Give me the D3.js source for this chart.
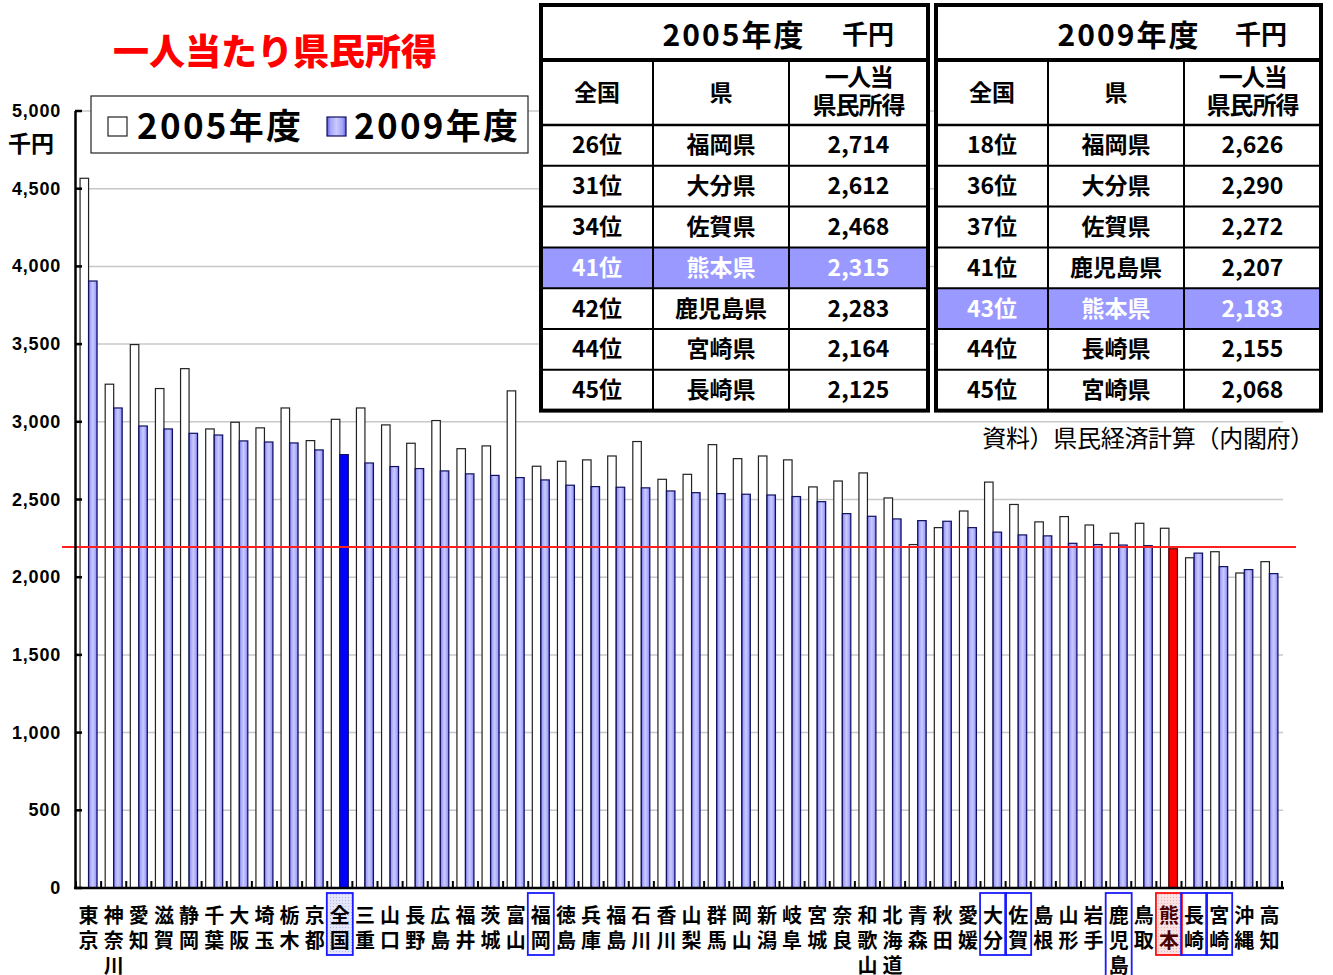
<!DOCTYPE html>
<html>
<head>
<meta charset="utf-8">
<script src="https://cdn.jsdelivr.net/npm/d3@7"></script>
<style>
  html, body { margin: 0; padding: 0; background: #fff; }
  svg { display: block; }
</style>
</head>
<body>
<div id="chart"></div>
<script>
// Prefectures ordered by 2009 per-capita income (全国 = national average)
const prefectures = ['東京','神奈川','愛知','滋賀','静岡','千葉','大阪','埼玉','栃木','京都','全国','三重','山口','長野','広島','福井','茨城','富山','福岡','徳島','兵庫','福島','石川','香川','山梨','群馬','岡山','新潟','岐阜','宮城','奈良','和歌山','北海道','青森','秋田','愛媛','大分','佐賀','島根','山形','岩手','鹿児島','鳥取','熊本','長崎','宮崎','沖縄','高知'];
const income2005 = [4567,3242,3497,3214,3342,2954,2997,2961,3089,2879,3016,3089,2980,2862,3008,2827,2845,3199,2714,2746,2755,2780,2873,2630,2662,2853,2763,2780,2755,2581,2619,2671,2510,2210,2319,2426,2612,2468,2356,2390,2336,2283,2347,2315,2125,2164,2027,2100];
const income2009 = [3906,3089,2973,2954,2926,2915,2877,2870,2864,2819,2789,2735,2712,2699,2684,2665,2655,2641,2626,2592,2583,2579,2575,2555,2544,2538,2534,2529,2519,2486,2409,2392,2375,2364,2360,2319,2290,2272,2266,2218,2210,2207,2203,2183,2155,2068,2049,2023];
const yTicks = [0,500,1000,1500,2000,2500,3000,3500,4000,4500,5000];
const referenceLine = 2195;   // red line (熊本 2009 level)

const focusPref = '熊本';
const nationalLabel = '全国';
const kyushuPrefs = ['福岡','大分','佐賀','鹿児島','長崎','宮崎'];

// Ranking tables
const tableTitles = ['2005年度', '2009年度'];
const ranks2005 = ['26位','31位','34位','41位','42位','44位','45位'];
const prefs2005 = ['福岡県','大分県','佐賀県','熊本県','鹿児島県','宮崎県','長崎県'];
const values2005 = [2714,2612,2468,2315,2283,2164,2125];
const ranks2009 = ['18位','36位','37位','41位','43位','44位','45位'];
const prefs2009 = ['福岡県','大分県','佐賀県','鹿児島県','熊本県','長崎県','宮崎県'];
const values2009 = [2626,2290,2272,2207,2183,2155,2068];

const W = 1333, H = 975;
const JP = "'Noto Sans CJK JP', 'Noto Sans', sans-serif";
const NUM = "'Liberation Sans', Arial, sans-serif";

const svg = d3.select('#chart').append('svg')
    .attr('width', W).attr('height', H)
    .attr('viewBox', `0 0 ${W} ${H}`);
svg.append('rect').attr('width', W).attr('height', H).attr('fill', '#fff');

const defs = svg.append('defs');
const grad = defs.append('linearGradient').attr('id', 'bar09').attr('x1', 0).attr('x2', 1).attr('y1', 0).attr('y2', 0);
[[0, '#5c5ce0'], [0.18, '#a4a4fa'], [0.5, '#cacaff'], [0.82, '#a4a4fa'], [1, '#5c5ce0']]
  .forEach(([o, c]) => grad.append('stop').attr('offset', o).attr('stop-color', c));
const dots = defs.append('pattern').attr('id', 'dotsBlue').attr('width', 3).attr('height', 3).attr('patternUnits', 'userSpaceOnUse');
dots.append('rect').attr('width', 3).attr('height', 3).attr('fill', '#e6e6fb');
dots.append('rect').attr('width', 1).attr('height', 1).attr('fill', '#b8b8e8');
const dotsRed = defs.append('pattern').attr('id', 'dotsRed').attr('width', 3).attr('height', 3).attr('patternUnits', 'userSpaceOnUse');
dotsRed.append('rect').attr('width', 3).attr('height', 3).attr('fill', '#fbe2e2');
dotsRed.append('rect').attr('width', 1).attr('height', 1).attr('fill', '#eab4b4');

const x = d3.scaleBand().domain(prefectures).range([76, 1282]).padding(0);
const y = d3.scaleLinear().domain([0, 5000]).range([888, 111]);
const barW = 8.5;

// gridlines
svg.append('g')
  .selectAll('line')
  .data(yTicks.filter(d => d > 0))
  .join('line')
    .attr('x1', 76).attr('x2', 1283)
    .attr('y1', d => y(d)).attr('y2', d => y(d))
    .attr('stroke', '#c8c8c8').attr('stroke-width', 1.5);

const rows = prefectures.map((p, i) => ({ p, v05: income2005[i], v09: income2009[i] }));
const cx = d => x(d.p) + x.bandwidth() / 2;

const bars = svg.append('g');
bars.selectAll('rect.b05')
  .data(rows)
  .join('rect')
    .attr('class', 'b05')
    .attr('x', d => cx(d) - barW)
    .attr('y', d => y(d.v05))
    .attr('width', barW)
    .attr('height', d => y(0) - y(d.v05))
    .attr('fill', '#fff')
    .attr('stroke', '#222').attr('stroke-width', 1.2);

bars.selectAll('rect.b09')
  .data(rows)
  .join('rect')
    .attr('class', 'b09')
    .attr('x', d => cx(d))
    .attr('y', d => y(d.v09))
    .attr('width', barW)
    .attr('height', d => y(0) - y(d.v09))
    .attr('fill', d => d.p === focusPref ? '#ff0000' : d.p === nationalLabel ? '#0000ff' : 'url(#bar09)')
    .attr('stroke', d => d.p === focusPref ? '#600' : '#101060').attr('stroke-width', 1.2);

// red reference line
svg.append('line')
    .attr('x1', 62).attr('x2', 1296)
    .attr('y1', y(referenceLine)).attr('y2', y(referenceLine))
    .attr('stroke', '#ff2020').attr('stroke-width', 2);

// y axis
const yAxis = svg.append('g');
yAxis.append('line')
    .attr('x1', 75.5).attr('x2', 75.5).attr('y1', y(5000)).attr('y2', y(0))
    .attr('stroke', '#000').attr('stroke-width', 2.5);
yAxis.selectAll('line.tick')
  .data(yTicks)
  .join('line')
    .attr('class', 'tick')
    .attr('x1', 75).attr('x2', 82)
    .attr('y1', d => y(d)).attr('y2', d => y(d))
    .attr('stroke', '#000').attr('stroke-width', 2.5);
yAxis.selectAll('text')
  .data(yTicks)
  .join('text')
    .attr('x', 61).attr('y', d => y(d) + 6)
    .attr('text-anchor', 'end')
    .attr('font-family', NUM).attr('font-weight', 'bold').attr('font-size', 18)
    .attr('letter-spacing', 0.8)
    .text(d => d3.format(',')(d));
svg.append('text')
    .attr('x', 31).attr('y', 152)
    .attr('text-anchor', 'middle')
    .attr('font-family', JP).attr('font-weight', 'bold').attr('font-size', 23)
    .text('千円');

// x axis
const xAxis = svg.append('g');
xAxis.append('line')
    .attr('x1', 74).attr('x2', 1284).attr('y1', y(0)).attr('y2', y(0))
    .attr('stroke', '#000').attr('stroke-width', 2.5);
xAxis.selectAll('line.tick')
  .data(prefectures.concat(['end']))
  .join('line')
    .attr('class', 'tick')
    .attr('x1', (d, i) => 76 + i * x.step()).attr('x2', (d, i) => 76 + i * x.step())
    .attr('y1', y(0)).attr('y2', y(0) - 7)
    .attr('stroke', '#000').attr('stroke-width', 2);

// label boxes
const boxed = prefectures.filter(p => p === nationalLabel || p === focusPref || kyushuPrefs.includes(p));
svg.append('g')
  .selectAll('rect')
  .data(boxed)
  .join('rect')
    .attr('x', p => x(p) + x.bandwidth() / 2 - 13)
    .attr('y', 893)
    .attr('width', 26)
    .attr('height', p => 25 * Array.from(p).length + 12)
    .attr('fill', p => p === nationalLabel ? 'url(#dotsBlue)' : p === focusPref ? 'url(#dotsRed)' : 'none')
    .attr('stroke', p => p === focusPref ? '#ff1010' : '#1a1aff')
    .attr('stroke-width', 1.8);

const xLabels = svg.append('g')
  .selectAll('text')
  .data(prefectures)
  .join('text')
    .attr('text-anchor', 'middle')
    .attr('font-family', JP).attr('font-weight', 'bold').attr('font-size', 20)
    .attr('fill', p => p === focusPref ? '#4a0000' : '#000');
xLabels.each(function(p) {
  const t = d3.select(this);
  Array.from(p).forEach((ch, i) => {
    t.append('tspan')
      .attr('x', x(p) + x.bandwidth() / 2)
      .attr('y', 923 + i * 25)
      .text(ch);
  });
});

// legend
const legend = svg.append('g');
legend.append('rect')
    .attr('x', 91).attr('y', 96).attr('width', 437).attr('height', 57)
    .attr('fill', '#fff').attr('stroke', '#222').attr('stroke-width', 1.2);
legend.append('rect').attr('x', 108).attr('y', 117).attr('width', 19).attr('height', 19)
    .attr('fill', '#fff').attr('stroke', '#222').attr('stroke-width', 1.2);
legend.append('rect').attr('x', 327).attr('y', 117).attr('width', 19).attr('height', 19)
    .attr('fill', 'url(#bar09)').attr('stroke', '#101060').attr('stroke-width', 1.2);
legend.selectAll('text')
  .data([[137, '2005年度'], [354, '2009年度']])
  .join('text')
    .attr('x', d => d[0]).attr('y', 139)
    .attr('font-family', JP).attr('font-weight', 'bold').attr('font-size', 35)
    .attr('letter-spacing', 2.3)
    .text(d => d[1]);

// title
svg.append('text')
    .attr('x', 275).attr('y', 65)
    .attr('text-anchor', 'middle')
    .attr('font-family', JP).attr('font-weight', 900).attr('font-size', 36)
    .attr('fill', '#ff0000')
    .text('一人当たり県民所得');

// ranking tables
function drawTable(x0, cols, title, ranks, prefs, vals) {
  const g = svg.append('g');
  const xs = cols.map(c => x0 + c);
  const top = 5, headBottom = 60, colHeadBottom = 125, rowH = 40.8;
  const bottom = colHeadBottom + rowH * ranks.length;
  const centers = [0, 1, 2].map(i => (xs[i] + xs[i + 1]) / 2);

  g.append('rect').attr('x', xs[0]).attr('y', top).attr('width', xs[3] - xs[0]).attr('height', bottom - top)
      .attr('fill', '#fff');
  ranks.forEach((r, i) => {
    if (prefs[i] === focusPref + '県') {
      g.append('rect').attr('x', xs[0]).attr('y', colHeadBottom + i * rowH)
          .attr('width', xs[3] - xs[0]).attr('height', rowH).attr('fill', '#9999ff');
    }
  });
  // inner lines
  for (let i = 1; i < ranks.length; i++) {
    g.append('line').attr('x1', xs[0]).attr('x2', xs[3])
        .attr('y1', colHeadBottom + i * rowH).attr('y2', colHeadBottom + i * rowH)
        .attr('stroke', '#000').attr('stroke-width', 2);
  }
  g.append('line').attr('x1', xs[0]).attr('x2', xs[3]).attr('y1', colHeadBottom).attr('y2', colHeadBottom)
      .attr('stroke', '#000').attr('stroke-width', 2.5);
  [1, 2].forEach(i => g.append('line').attr('x1', xs[i]).attr('x2', xs[i])
      .attr('y1', headBottom).attr('y2', bottom).attr('stroke', '#000').attr('stroke-width', 2));
  g.append('line').attr('x1', xs[0]).attr('x2', xs[3]).attr('y1', headBottom).attr('y2', headBottom)
      .attr('stroke', '#000').attr('stroke-width', 4);
  g.append('rect').attr('x', xs[0]).attr('y', top).attr('width', xs[3] - xs[0]).attr('height', bottom - top)
      .attr('fill', 'none').attr('stroke', '#000').attr('stroke-width', 4);

  const txt = (xx, yy, s, size, fill) => g.append('text')
      .attr('x', xx).attr('y', yy).attr('text-anchor', 'middle')
      .attr('font-family', JP).attr('font-weight', 'bold').attr('font-size', size)
      .attr('fill', fill || '#000').text(s);

  txt(xs[0] + 193, 46, title, 30).attr('letter-spacing', 2);
  txt(xs[3] - 60, 44, '千円', 26);
  txt(centers[0], 101, '全国', 23);
  txt(centers[1], 101, '県', 23);
  txt(centers[2], 86, '一人当', 24).attr('letter-spacing', -1.5);
  txt(centers[2], 114, '県民所得', 24).attr('letter-spacing', -1);
  ranks.forEach((r, i) => {
    const yy = colHeadBottom + i * rowH + rowH / 2 + 8;
    const hi = prefs[i] === focusPref + '県';
    const fill = hi ? '#fff' : '#000';
    txt(centers[0], yy, r, 23, fill);
    txt(centers[1], yy, prefs[i], 23, fill);
    txt(centers[2], yy, d3.format(',')(vals[i]), 23, fill);
  });
}
drawTable(541, [0, 112, 248, 387], tableTitles[0], ranks2005, prefs2005, values2005);
drawTable(936, [0, 112, 248, 385], tableTitles[1], ranks2009, prefs2009, values2009);

// source note
svg.append('text')
    .attr('x', 1314).attr('y', 447)
    .attr('text-anchor', 'end')
    .attr('font-family', JP).attr('font-size', 24)
    .attr('letter-spacing', -0.3)
    .text('資料）県民経済計算（内閣府）');
</script>
</body>
</html>
